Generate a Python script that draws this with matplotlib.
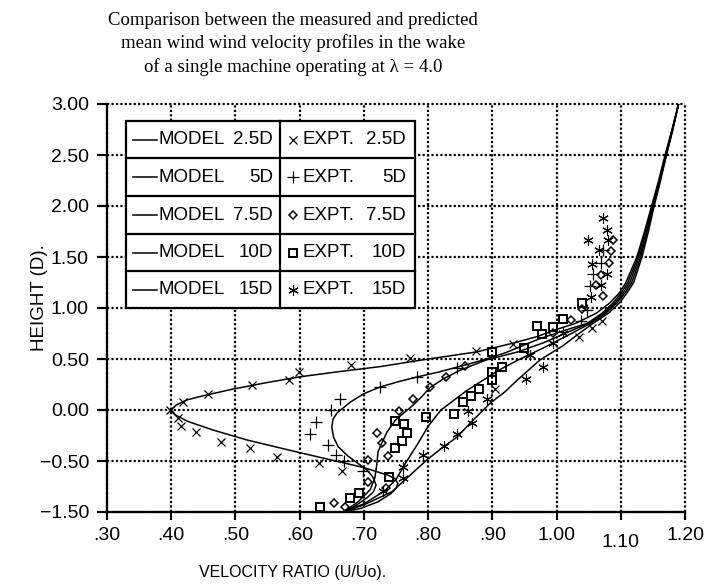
import matplotlib.pyplot as plt
from matplotlib.patches import Rectangle
from matplotlib.lines import Line2D

plt.rcParams['font.family'] = ['Liberation Sans', 'DejaVu Sans']

# ---- data (y values are plot positions; bottom tick is labelled -1.50 in the original) ----
x_ticks = [0.30, 0.40, 0.50, 0.60, 0.70, 0.80, 0.90, 1.00, 1.10, 1.20]
x_tick_labels = ['.30', '.40', '.50', '.60', '.70', '.80', '.90', '1.00', '1.10', '1.20']
y_ticks = [-1.0, -0.5, 0.0, 0.5, 1.0, 1.5, 2.0, 2.5, 3.0]
y_tick_labels = ['\u22121.50', '\u22120.50', '0.00', '0.50', '1.00', '1.50', '2.00', '2.50', '3.00']

model_25_x = [0.668, 0.695, 0.722, 0.742, 0.750, 0.753, 0.748, 0.738, 0.700, 0.663, 0.596, 0.518, 0.465,
              0.425, 0.407, 0.400, 0.408, 0.425, 0.450, 0.496, 0.550, 0.600, 0.660, 0.725, 0.790, 0.876,
              0.932, 0.970, 0.995, 1.030, 1.062, 1.083, 1.098, 1.108, 1.125, 1.137, 1.148, 1.159,
              1.169, 1.180, 1.190]
model_25_y = [-1.00, -0.965, -0.90, -0.82, -0.77, -0.72, -0.67, -0.64, -0.565, -0.51, -0.412, -0.294, -0.196,
              -0.11, -0.05, 0.00, 0.05, 0.10, 0.14, 0.205, 0.27, 0.325, 0.375, 0.425, 0.49, 0.57,
              0.655, 0.72, 0.78, 0.85, 0.95, 1.05, 1.15, 1.25, 1.50, 1.75, 2.00, 2.25,
              2.50, 2.75, 3.00]

model_5_x = [0.668, 0.689, 0.705, 0.715, 0.719, 0.714, 0.705, 0.690, 0.675, 0.660, 0.653, 0.650, 0.652,
             0.658, 0.679, 0.700, 0.725, 0.755, 0.783, 0.815, 0.845, 0.880, 0.920, 0.974, 1.015, 1.048,
             1.071, 1.088, 1.101, 1.111, 1.127, 1.138, 1.149, 1.160, 1.170, 1.180, 1.190]
model_5_y = [-1.00, -0.93, -0.86, -0.80, -0.735, -0.657, -0.59, -0.52, -0.45, -0.36, -0.27, -0.17, -0.09,
             -0.03, 0.078, 0.16, 0.225, 0.28, 0.324, 0.37, 0.42, 0.48, 0.56, 0.70, 0.785, 0.85,
             0.95, 1.05, 1.15, 1.25, 1.50, 1.75, 2.00, 2.25, 2.50, 2.75, 3.00]

model_75_x = [0.668, 0.691, 0.710, 0.717, 0.720, 0.722, 0.728, 0.736, 0.749, 0.762, 0.777, 0.790, 0.803,
              0.825, 0.850, 0.890, 0.940, 0.980, 1.020, 1.050, 1.074, 1.091, 1.104, 1.114, 1.129, 1.140,
              1.150, 1.160, 1.170, 1.180, 1.190]
model_75_y = [-1.00, -0.90, -0.78, -0.667, -0.54, -0.41, -0.324, -0.216, -0.10, -0.03, 0.05, 0.13, 0.22,
              0.31, 0.39, 0.49, 0.57, 0.66, 0.77, 0.85, 0.95, 1.05, 1.15, 1.25, 1.50, 1.75,
              2.00, 2.25, 2.50, 2.75, 3.00]

model_10_x = [0.668, 0.700, 0.733, 0.750, 0.765, 0.785, 0.800, 0.820, 0.860, 0.910, 0.940, 0.980, 1.020,
              1.053, 1.077, 1.094, 1.107, 1.117, 1.131, 1.141, 1.151, 1.161, 1.171, 1.181, 1.190]
model_10_y = [-1.00, -0.92, -0.79, -0.68, -0.52, -0.32, -0.16, 0.00, 0.19, 0.39, 0.49, 0.61, 0.74,
              0.85, 0.95, 1.05, 1.15, 1.25, 1.50, 1.75, 2.00, 2.25, 2.50, 2.75, 3.00]

model_15_x = [0.668, 0.700, 0.744, 0.770, 0.798, 0.822, 0.845, 0.870, 0.897, 0.920, 0.939, 0.974, 1.010,
              1.035, 1.057, 1.081, 1.098, 1.110, 1.120, 1.133, 1.143, 1.152, 1.162, 1.171, 1.181, 1.190]
model_15_y = [-1.00, -0.93, -0.80, -0.65, -0.49, -0.37, -0.265, -0.10, 0.069, 0.18, 0.294, 0.49, 0.63,
              0.75, 0.85, 0.95, 1.05, 1.15, 1.25, 1.50, 1.75, 2.00, 2.25, 2.50, 2.75, 3.00]

expt_25_x = [0.398, 0.418, 0.457, 0.526, 0.583, 0.599, 0.680, 0.772, 0.875, 0.932, 0.904, 1.035, 1.055, 1.071,
             0.411, 0.415, 0.439, 0.478, 0.523, 0.565, 0.630, 0.666]
expt_25_y = [0.000, 0.078, 0.157, 0.245, 0.294, 0.373, 0.441, 0.510, 0.578, 0.647, 0.210, 0.716, 0.804, 0.873,
             -0.078, -0.157, -0.216, -0.314, -0.373, -0.461, -0.520, -0.598]

expt_5_x = [0.663, 0.649, 0.626, 0.616, 0.644, 0.657, 0.669, 0.699, 0.725, 0.783, 0.845,
            1.038, 1.048, 1.052, 1.057, 1.069, 1.073]
expt_5_y = [0.108, 0.000, -0.118, -0.235, -0.343, -0.441, -0.500, -0.598, 0.225, 0.324, 0.412,
            0.873, 0.980, 1.216, 1.333, 1.441, 1.569]

expt_75_x = [0.720, 0.707, 0.707, 0.654, 0.671, 0.728, 0.738, 0.735, 0.755, 0.777, 0.803, 0.828, 0.858,
             0.995, 1.023, 1.040, 1.073, 1.062, 1.069, 1.082, 1.085, 1.088]
expt_75_y = [-0.225, -0.490, -0.706, -0.912, -0.951, -0.324, -0.451, -0.765, -0.010, 0.108, 0.225, 0.324, 0.431,
             0.755, 0.882, 0.990, 1.118, 1.225, 1.324, 1.441, 1.559, 1.667]

expt_10_x = [0.632, 0.679, 0.693, 0.739, 0.749, 0.760, 0.767, 0.763, 0.749, 0.797, 0.840, 0.855, 0.867,
             0.879, 0.900, 0.900, 0.915, 0.900, 0.950, 0.970, 0.978, 0.995, 1.010, 1.040]
expt_10_y = [-0.951, -0.863, -0.814, -0.657, -0.373, -0.304, -0.225, -0.137, -0.108, -0.069, -0.039, 0.078, 0.137,
             0.206, 0.294, 0.373, 0.422, 0.569, 0.608, 0.824, 0.745, 0.814, 0.892, 1.049]

expt_15_x = [0.730, 0.761, 0.761, 0.792, 0.825, 0.845, 0.869, 0.862, 0.892, 0.953, 0.979, 0.959, 0.995,
             1.010, 1.054, 1.069, 1.079, 1.055, 1.066, 1.049, 1.080, 1.079, 1.073]
expt_15_y = [-0.794, -0.667, -0.559, -0.441, -0.353, -0.235, -0.127, -0.010, 0.108, 0.304, 0.422, 0.539, 0.657,
             0.755, 1.108, 1.225, 1.333, 1.431, 1.569, 1.667, 1.667, 1.765, 1.882]

legend_dist = ['2.5D', '5D', '7.5D', '10D', '15D']

title_text = ('Comparison between the measured and predicted\n'
              'mean wind wind velocity profiles in the wake\n'
              'of a single machine operating at \u03bb = 4.0')

# ---- figure ----
fig = plt.figure(figsize=(7.04, 5.86), dpi=100)
ax = fig.add_axes([107 / 704, 74 / 586, 578 / 704, 408 / 586])

asterisk = (6, 2, 0)
marker_styles = [
    dict(marker='x', ms=6, mew=0.9),
    dict(marker='+', ms=8, mew=0.9),
    dict(marker='D', ms=4.3, mew=1.1),
    dict(marker='s', ms=5.5, mew=1.4),
    dict(marker=asterisk, ms=7.5, mew=0.8),
]

models = [(model_25_x, model_25_y), (model_5_x, model_5_y), (model_75_x, model_75_y),
          (model_10_x, model_10_y), (model_15_x, model_15_y)]
expts = [(expt_25_x, expt_25_y), (expt_5_x, expt_5_y), (expt_75_x, expt_75_y),
         (expt_10_x, expt_10_y), (expt_15_x, expt_15_y)]

for mx, my in models:
    ax.plot(mx, my, color='black', lw=1.1, solid_joinstyle='round', zorder=3)
for (ex, ey), st in zip(expts, marker_styles):
    ax.plot(ex, ey, ls='none', mfc='none', mec='black', zorder=4, **st)

ax.set_xlim(0.30, 1.20)
ax.set_ylim(-1.0, 3.0)
ax.set_xticks(x_ticks)
ax.set_xticklabels(x_tick_labels)
ax.set_yticks(y_ticks)
ax.set_yticklabels(y_tick_labels)
ax.grid(True, color='black', linestyle=(0, (1, 1)), linewidth=1.6)
for gl in ax.get_xgridlines() + ax.get_ygridlines():
    gl.set_clip_on(False)
for s in ['top', 'right']:
    ax.spines[s].set_visible(False)
for s in ['left', 'bottom']:
    ax.spines[s].set_linewidth(1.6)
ax.tick_params(axis='x', direction='out', length=6, width=1.6, labelsize=14, pad=5)
ax.tick_params(axis='y', direction='out', length=7, width=1.6, labelsize=14, pad=6)
xt = ax.xaxis.get_major_ticks()
xt[8].set_pad(10)

ax.set_xlabel('VELOCITY RATIO (U/Uo).', fontsize=11.5)
ax.xaxis.set_label_coords((293 - 107) / 578, (512 - 572) / 408)
ax.xaxis.label.set_va('center')
ax.set_ylabel('HEIGHT (D).', fontsize=13.5)
ax.yaxis.set_label_coords((40 - 107) / 578, (512 - 298) / 408)
ax.yaxis.label.set_va('center')

fig.text(293 / 704, 1 - 44 / 586, title_text, ha='center', va='center',
         family='Liberation Serif', fontsize=13.5, linespacing=1.42)


# ---- legend table ----
def axf(px, py):
    return (px - 107) / 578, (512 - py) / 408


x0, y_top = axf(126, 121)
x1, y_bot = axf(415, 308)
xd, _ = axf(280, 0)
ax.add_patch(Rectangle((x0, y_bot), x1 - x0, y_top - y_bot, transform=ax.transAxes,
                       facecolor='white', edgecolor='black', lw=1.6, zorder=6))
ax.add_line(Line2D([xd, xd], [y_bot, y_top], transform=ax.transAxes, color='black', lw=1.6, zorder=7))
row_edges = [121, 158, 196, 234, 271, 308]
for r in row_edges[1:-1]:
    _, yy = axf(0, r)
    ax.add_line(Line2D([x0, x1], [yy, yy], transform=ax.transAxes, color='black', lw=1.6, zorder=7))

for i, lab in enumerate(legend_dist):
    _, yc = axf(0, (row_edges[i] + row_edges[i + 1]) / 2)
    la, _ = axf(133, 0)
    lb, _ = axf(157, 0)
    ax.add_line(Line2D([la, lb], [yc, yc], transform=ax.transAxes, color='black', lw=1.1, zorder=7))
    tx, _ = axf(159, 0)
    ax.text(tx, yc, 'MODEL', transform=ax.transAxes, ha='left', va='center', fontsize=13.5, zorder=8)
    tx, _ = axf(273, 0)
    ax.text(tx, yc, lab, transform=ax.transAxes, ha='right', va='center', fontsize=13.5, zorder=8)
    mx_, _ = axf(293, 0)
    ax.add_line(Line2D([mx_], [yc], transform=ax.transAxes, ls='none', mfc='none', mec='black',
                       zorder=8, **marker_styles[i]))
    tx, _ = axf(303, 0)
    ax.text(tx, yc, 'EXPT.', transform=ax.transAxes, ha='left', va='center', fontsize=13.5, zorder=8)
    tx, _ = axf(406, 0)
    ax.text(tx, yc, lab, transform=ax.transAxes, ha='right', va='center', fontsize=13.5, zorder=8)

fig.savefig('out.png', dpi=100, facecolor='white')
